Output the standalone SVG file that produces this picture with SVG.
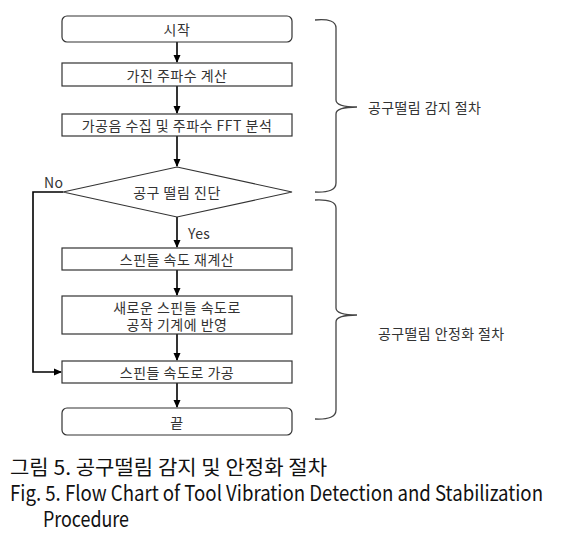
<svg xmlns="http://www.w3.org/2000/svg" width="563" height="541" viewBox="0 0 563 541">
<defs>
<marker id="ah" markerWidth="8" markerHeight="8" refX="7" refY="4" orient="auto" markerUnits="userSpaceOnUse">
<path d="M0,0.5 L8,4 L0,7.5 z" fill="#000"/>
</marker>
<style>
.box{fill:#fff;stroke:#333;stroke-width:1.2}
.t{font-family:"Malgun Gothic","Noto Sans CJK KR",sans-serif;font-size:14px;letter-spacing:0.5px;fill:#333;text-anchor:middle;dominant-baseline:central}
.lbl{font-family:"Noto Sans CJK KR",sans-serif;font-size:14px;letter-spacing:0.4px;fill:#333;dominant-baseline:central}
.c{fill:none;stroke:#000;stroke-width:1.6}
.br{fill:none;stroke:#444;stroke-width:1.3}
.cap{font-family:"Noto Sans CJK KR",sans-serif;fill:#111}
</style>
</defs>
<rect width="563" height="541" fill="#fff"/>
<g id="connectors">
<line class="c" x1="177" y1="42" x2="177" y2="62" marker-end="url(#ah)"/>
<line class="c" x1="177" y1="86" x2="177" y2="113" marker-end="url(#ah)"/>
<line class="c" x1="177" y1="136" x2="177" y2="166" marker-end="url(#ah)"/>
<line class="c" x1="177" y1="217" x2="177" y2="247" marker-end="url(#ah)"/>
<line class="c" x1="177" y1="270" x2="177" y2="295" marker-end="url(#ah)"/>
<line class="c" x1="177" y1="334" x2="177" y2="360" marker-end="url(#ah)"/>
<line class="c" x1="177" y1="383" x2="177" y2="407" marker-end="url(#ah)"/>
<polyline class="c" points="63,192 33,192 33,372 61,372" marker-end="url(#ah)"/>
<text class="lbl" x="44" y="182">No</text>
<text class="lbl" x="188" y="233">Yes</text>
</g>
<g id="start">
<rect class="box" x="62" y="16" width="230" height="26" rx="5"/>
<text class="t" x="177" y="29">시작</text>
</g>
<g id="calc-freq">
<rect class="box" x="62" y="63" width="230" height="23"/>
<text class="t" x="177" y="74.5">가진 주파수 계산</text>
</g>
<g id="fft">
<rect class="box" x="62" y="114" width="230" height="22"/>
<text class="t" x="177" y="125">가공음 수집 및 주파수 FFT 분석</text>
</g>
<g id="diagnose">
<polygon class="box" points="177,167 292,192 177,217 63,192"/>
<text class="t" x="177" y="192">공구 떨림 진단</text>
</g>
<g id="recalc">
<rect class="box" x="62" y="248" width="230" height="22"/>
<text class="t" x="177" y="259">스핀들 속도 재계산</text>
</g>
<g id="apply">
<rect class="box" x="62" y="296" width="230" height="38"/>
<text class="t" x="177" y="307">새로운 스핀들 속도로</text>
<text class="t" x="177" y="324">공작 기계에 반영</text>
</g>
<g id="machining">
<rect class="box" x="62" y="361" width="230" height="22"/>
<text class="t" x="177" y="372">스핀들 속도로 가공</text>
</g>
<g id="end">
<rect class="box" x="62" y="408" width="230" height="27" rx="5"/>
<text class="t" x="177" y="421.5">끝</text>
</g>
<g id="brace-detect">
<path class="br" d="M315,20 Q336,18 336,28 L336,100 Q336,107 357,107 Q336,107 336,114 L336,183 Q336,193 315,192"/>
<text class="lbl" x="368" y="107">공구떨림 감지 절차</text>
</g>
<g id="brace-stabilize">
<path class="br" d="M315,200 Q336,199 336,208 L336,308 Q336,315 357,315 Q336,315 336,322 L336,410 Q336,420 315,419"/>
<text class="lbl" x="378" y="333">공구떨림 안정화 절차</text>
</g>
<g id="caption">
<text class="cap" x="10" y="475" font-size="20" textLength="317" lengthAdjust="spacingAndGlyphs">그림 5. 공구떨림 감지 및 안정화 절차</text>
<text class="cap" x="10" y="501" font-size="21" textLength="533" lengthAdjust="spacingAndGlyphs">Fig. 5. Flow Chart of Tool Vibration Detection and Stabilization</text>
<text class="cap" x="43" y="527" font-size="21" textLength="86" lengthAdjust="spacingAndGlyphs">Procedure</text>
</g>
</svg>
